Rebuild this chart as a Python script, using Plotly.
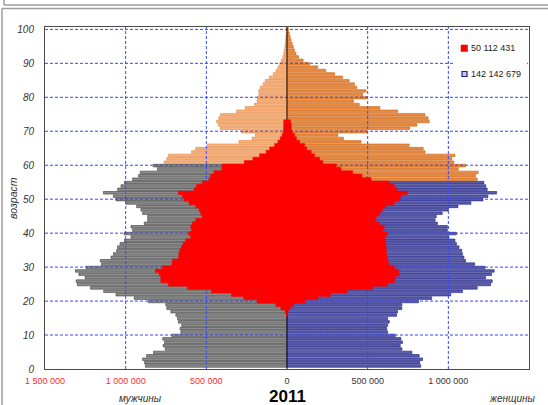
import plotly.graph_objects as go

# ---------------- data (thousands of persons) ----------------
ages = list(range(0, 101))

men_k = [
    878, 883, 895, 870, 827, 755, 768, 759, 770, 714,        # 0-9
    658, 663, 652, 673, 679, 689, 720, 745, 751, 860,        # 10-19
    947, 1060, 1136, 1218, 1300, 1307, 1251, 1290, 1311, 1245,  # 20-29
    1150, 1157, 1091, 1076, 1056, 1050, 1035, 1008, 967, 1010,  # 30-39
    957, 967, 885, 864, 864, 895, 906, 932, 998, 1060,       # 40-49
    1076, 1138, 1050, 1029, 1008, 957, 920, 910, 803, 829,   # 50-59
    761, 745, 735, 591, 566, 494, 298, 216, 196, 282,        # 60-69
    412, 425, 436, 423, 412, 312, 259, 201, 185, 182,        # 70-79
    174, 175, 165, 148, 135, 109, 85, 68, 55, 45,            # 80-89
    35, 26, 20, 16, 13, 11, 9, 7, 5, 4,                      # 90-99
    3,                                                       # 100
]

women_k = [
    829, 823, 840, 819, 774, 712, 702, 716, 706, 671,        # 0-9
    624, 618, 624, 634, 624, 679, 685, 712, 712, 815,        # 10-19
    897, 1015, 1087, 1179, 1262, 1272, 1231, 1268, 1284, 1227,  # 20-29
    1163, 1107, 1097, 1087, 1083, 1066, 1050, 1041, 1004, 1050,  # 30-39
    994, 994, 932, 918, 925, 962, 1000, 1060, 1140, 1215,    # 40-49
    1245, 1299, 1241, 1232, 1220, 1179, 1169, 1185, 1062, 1107,  # 50-59
    1035, 1021, 1041, 856, 844, 757, 459, 350, 315, 495,     # 60-69
    760, 805, 882, 875, 855, 685, 576, 448, 412, 495,        # 70-79
    470, 490, 432, 418, 385, 345, 295, 240, 190, 140,        # 80-89
    100, 72, 56, 46, 39, 32, 25, 19, 14, 10,                 # 90-99
    7,                                                       # 100
]

# red series (left = men side, right = women side), ages 15..72, zero elsewhere
red_men_k = [0] * 15 + [
    3, 12, 38, 70, 185,
    268, 344, 469, 617, 735, 782, 782, 792, 817, 772,
    714, 710, 673, 669, 665, 654, 644, 628, 597, 610,
    591, 597, 587, 566, 525, 535, 545, 566, 607, 638,
    648, 673, 576, 562, 525, 484, 473, 453, 405, 401,
    265, 211, 170, 129, 108, 77, 57, 42, 30, 22, 24, 24, 20,
] + [0] * 28

red_women_k = [0] * 15 + [
    2, 6, 20, 40, 112,
    191, 270, 372, 531, 624, 665, 671, 696, 691, 665,
    634, 624, 624, 617, 613, 617, 613, 609, 609, 624,
    593, 603, 572, 547, 556, 576, 593, 613, 665, 696,
    706, 747, 685, 665, 634, 521, 465, 407, 335, 305,
    222, 202, 171, 150, 123, 109, 78, 58, 47, 33, 27, 27, 21,
] + [0] * 28

MEN_RET_AGE = 60
WOMEN_RET_AGE = 55

x_tick_vals = [-1500000, -1000000, -500000, 0, 500000, 1000000, 1500000]
x_tick_labels = ["1 500 000", "1 000 000", "500 000", "0", "500 000", "1 000 000", "1 500 000"]
y_tick_vals = list(range(0, 101, 10))
y_tick_labels = [str(v) for v in y_tick_vals]
legend_labels = ["50 112 431", "142 142 679"]
title_text = "2011"
men_label = "мужчины"
women_label = "женщины"
y_title = "возраст"

assert len(men_k) == 101 and len(women_k) == 101
assert len(red_men_k) == 101 and len(red_women_k) == 101

# ---------------- styling / geometry ----------------
W, H = 548, 405
ML, MR, MT, MB = 45, 19, 27, 36
PL, PR, PT, PB = ML, W - MR, MT, H - MB
Y_RANGE = [0, 100.7]
X_RANGE = [-1500000, 1500000]
OFF = 0.88        # bar centre offset relative to the grid
BAR_W = 0.76
FONT = "Arial, Liberation Sans, sans-serif"
GRID_COL = "#3646ff"


def px_x(px):
    return (px - PL) / (PR - PL)


def px_y(py):
    return (PB - py) / (PB - PT)


def bar_trace(sel_ages, values, sign, fill, line):
    return go.Bar(
        y=[a + OFF for a in sel_ages],
        x=[sign * values[a] * 1000 for a in sel_ages],
        orientation="h",
        width=BAR_W,
        marker=dict(color=fill, line=dict(color=line, width=0.6)),
        showlegend=False,
        hoverinfo="skip",
    )


fig = go.Figure()

men_work = [a for a in ages if a < MEN_RET_AGE]
men_ret = [a for a in ages if a >= MEN_RET_AGE]
wom_work = [a for a in ages if a < WOMEN_RET_AGE]
wom_ret = [a for a in ages if a >= WOMEN_RET_AGE]

fig.add_trace(bar_trace(men_work, men_k, -1, "#8c8c8c", "#3a3a3a"))
fig.add_trace(bar_trace(men_ret, men_k, -1, "#f5b47e", "#e8823c"))
fig.add_trace(bar_trace(wom_work, women_k, 1, "#5a5dab", "#1c1c82"))
fig.add_trace(bar_trace(wom_ret, women_k, 1, "#e98a3e", "#c9661f"))

# grid lines drawn over the bars (but under the red area)
gx, gy = [], []
for v in [t for t in x_tick_vals if t not in (0, X_RANGE[0], X_RANGE[1])]:
    gx += [v, v, None]
    gy += [Y_RANGE[0], Y_RANGE[1], None]
for t in y_tick_vals[1:]:
    gx += [X_RANGE[0], X_RANGE[1], None]
    gy += [t, t, None]
fig.add_trace(go.Scatter(x=gx, y=gy, mode="lines",
                         line=dict(color=GRID_COL, width=1, dash="3px,2px"),
                         showlegend=False, hoverinfo="skip"))
fig.add_trace(go.Scatter(x=[0, 0], y=Y_RANGE, mode="lines",
                         line=dict(color="#111111", width=1),
                         showlegend=False, hoverinfo="skip"))


def red_polygon(values, sign):
    idx = [a for a in ages if values[a] > 0]
    xs, ys = [0], [idx[0] + OFF - 0.5]
    for a in idx:
        v = sign * values[a] * 1000
        xs += [v, v]
        ys += [a + OFF - 0.5, a + OFF + 0.5]
    xs.append(0)
    ys.append(idx[-1] + OFF + 0.5)
    return go.Scatter(x=xs, y=ys, mode="lines", fill="toself",
                      fillcolor="#ff0000", line=dict(color="#ff0000", width=0.5),
                      showlegend=False, hoverinfo="skip")


fig.add_trace(red_polygon(red_men_k, -1))
fig.add_trace(red_polygon(red_women_k, 1))

x_ticktext = []
for v, lab in zip(x_tick_vals, x_tick_labels):
    col = "#ff2a2a" if v < 0 else "#333333"
    x_ticktext.append('<span style="color:%s">%s</span>' % (col, lab))

fig.update_layout(
    width=W, height=H,
    margin=dict(l=ML, r=MR, t=MT, b=MB, pad=0),
    paper_bgcolor="white", plot_bgcolor="white",
    barmode="overlay",
    showlegend=False,
    font=dict(family=FONT, color="#333333"),
    xaxis=dict(range=X_RANGE, tickvals=x_tick_vals, ticktext=x_ticktext,
               showgrid=False, zeroline=False, showline=True, mirror=True,
               linecolor="#4a4a4a", linewidth=1, ticks="",
               ticklabelstandoff=3,
               tickfont=dict(size=9, family=FONT), fixedrange=True),
    yaxis=dict(range=Y_RANGE, tickvals=y_tick_vals,
               ticktext=["<i>%s</i>" % t for t in y_tick_labels],
               showgrid=False, zeroline=False, showline=True, mirror=True,
               linecolor="#4a4a4a", linewidth=1, ticks="",
               ticklabelstandoff=8,
               tickfont=dict(size=10, family=FONT, color="#333333"), fixedrange=True),
)

shapes = []
# legend background (covers grid)
shapes.append(dict(type="rect", xref="paper", yref="paper", layer="above",
                   x0=px_x(455), x1=px_x(527), y0=px_y(88), y1=px_y(33),
                   fillcolor="white", line=dict(width=0)))
shapes.append(dict(type="rect", xref="paper", yref="paper", layer="above",
                   x0=px_x(461), x1=px_x(467.5), y0=px_y(51.5), y1=px_y(45),
                   fillcolor="#ff0000", line=dict(color="#ee0000", width=0.5)))
shapes.append(dict(type="rect", xref="paper", yref="paper", layer="above",
                   x0=px_x(462), x1=px_x(467), y0=px_y(76.5), y1=px_y(71.5),
                   fillcolor="#c9c9e6", line=dict(color="#20207f", width=1.2)))
# outer frames of the page
frame_col = "#9d9d9d"
shapes.append(dict(type="line", xref="paper", yref="paper", layer="above",
                   x0=px_x(4), x1=px_x(W + 2), y0=px_y(5), y1=px_y(5),
                   line=dict(color=frame_col, width=1.5)))
shapes.append(dict(type="line", xref="paper", yref="paper", layer="above",
                   x0=px_x(4), x1=px_x(4), y0=px_y(-2), y1=px_y(5),
                   line=dict(color=frame_col, width=1.5)))
shapes.append(dict(type="line", xref="paper", yref="paper", layer="above",
                   x0=px_x(2), x1=px_x(W + 2), y0=px_y(8.5), y1=px_y(8.5),
                   line=dict(color=frame_col, width=1.5)))
shapes.append(dict(type="line", xref="paper", yref="paper", layer="above",
                   x0=px_x(2), x1=px_x(2), y0=px_y(8.5), y1=px_y(H + 2),
                   line=dict(color=frame_col, width=1.5)))
fig.update_layout(shapes=shapes)

ann = [
    dict(text=legend_labels[0], x=px_x(468.5), y=px_y(48.3), xanchor="left", yanchor="middle",
         font=dict(size=9, color="#222222")),
    dict(text=legend_labels[1], x=px_x(468.5), y=px_y(74), xanchor="left", yanchor="middle",
         font=dict(size=9, color="#222222")),
    dict(text="<b>%s</b>" % title_text, x=px_x(287), y=px_y(396), xanchor="center",
         yanchor="middle", font=dict(size=17, color="#000000")),
    dict(text="<i>%s</i>" % men_label, x=px_x(140), y=px_y(398), xanchor="center",
         yanchor="middle", font=dict(size=10, color="#333333")),
    dict(text="<i>%s</i>" % women_label, x=px_x(512), y=px_y(398), xanchor="center",
         yanchor="middle", font=dict(size=10, color="#333333")),
    dict(text="<i>%s</i>" % y_title, x=px_x(13), y=px_y(198), xanchor="center",
         yanchor="middle", textangle=-90, font=dict(size=10.5, color="#333333")),
]
for a in ann:
    a.update(xref="paper", yref="paper", showarrow=False)
fig.update_layout(annotations=ann)

fig.write_html("out.html", config={"displayModeBar": False},
               post_script="document.body.style.margin='0';document.body.style.padding='0';")
